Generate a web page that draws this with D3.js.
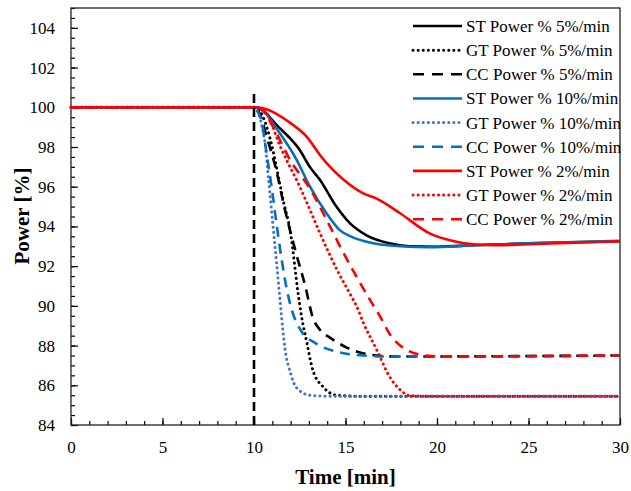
<!DOCTYPE html>
<html lang="en">
  <meta charset="utf-8">
  <style>
    body{ margin: 0; background: #fff; }
    text{ font-family: "Liberation Serif", "Times New Roman", serif; }
  </style>
  <body>
    <svg width="631" height="491"></svg>

    <script src="https://d3js.org/d3.v7.min.js"></script>
    <script>
      // series data: [time (min), power (%)]
      let st5 = [[0,100],[10,100],[10.3,99.95],[11.24,99.1],[12.5,97.85],[13.05,97.0],[13.6,96.35],[14.5,95.0],[15.25,94.15],[16.15,93.55],[17.4,93.15],[18.5,93.0],[20,92.98],[22,93.05],[25,93.15],[30,93.25]]
      let gt5 = [[0,100],[10,100],[10.2,99.95],[10.5,99.5],[10.9,98.35],[11.4,96.2],[11.6,95.3],[12,93.65],[12.4,90.7],[12.6,89.45],[12.9,88.1],[13.2,86.8],[13.8,85.9],[14.5,85.5],[15.6,85.45],[30,85.45]]
      let cc5 = [[0,100],[10,100],[10.3,99.7],[10.7,98.5],[11.25,96.7],[11.6,95.2],[12.3,92.65],[12.8,91.0],[13.2,89.45],[13.6,88.8],[14.15,88.4],[15.07,87.9],[16.3,87.55],[17.8,87.45],[30,87.5]]
      let st10 = [[0,100],[10,100],[10.3,99.95],[11.4,98.7],[12.3,97.4],[13.06,96.0],[13.97,94.65],[14.7,93.8],[15.4,93.45],[16.15,93.23],[18,93.0],[19.6,92.95],[22,93.05],[25,93.15],[30,93.28]]
      let gt10 = [[0,100],[10,100],[10.15,99.9],[10.4,99.2],[10.6,98.2],[10.8,96.3],[11.05,93.9],[11.25,92.0],[11.4,90.5],[11.5,89.5],[11.7,87.8],[12,86.6],[12.3,85.9],[13.05,85.5],[14.15,85.45],[30,85.45]]
      let cc10 = [[0,100],[10,100],[10.2,99.8],[10.4,99.35],[10.7,97.6],[10.96,96.0],[11.25,94.0],[11.5,92.4],[11.8,90.8],[12.1,89.7],[12.5,88.85],[13.4,88.1],[14.5,87.7],[16,87.5],[17.4,87.45],[30,87.5]]
      let st2 = [[0,100],[10,100],[10.5,99.95],[12,99.2],[12.9,98.5],[13.6,97.6],[14.9,96.35],[16,95.65],[16.7,95.4],[18,94.65],[19.6,93.65],[20.5,93.35],[21.5,93.15],[23,93.05],[25,93.1],[30,93.25]]
      let gt2 = [[0,100],[10,100],[10.3,99.95],[10.7,99.7],[11.4,98.1],[12.45,96.1],[14.05,92.75],[14.6,91.7],[15.25,90.6],[15.6,90.0],[16,89.1],[16.7,87.8],[17.4,86.45],[18,85.76],[18.5,85.48],[19.5,85.45],[30,85.45]]
      let cc2 = [[0,100],[10,100],[10.4,99.9],[11.05,99.0],[12,97.3],[13.06,95.9],[14.15,94.0],[14.7,93.0],[16.34,90.3],[16.9,89.45],[17.4,88.6],[18.3,87.8],[19.4,87.5],[20.5,87.45],[30,87.5]]
      let stepLine = [[10,84],[10,100.9]]

      let names = ['ST Power % 5%/min','GT Power % 5%/min','CC Power % 5%/min',
                   'ST Power % 10%/min','GT Power % 10%/min','CC Power % 10%/min',
                   'ST Power % 2%/min','GT Power % 2%/min','CC Power % 2%/min']
      let series = [st5, gt5, cc5, st10, gt10, cc10, st2, gt2, cc2]
      let colors = ['#000','#000','#000','#0070C0','#4472C4','#0070C0','#ff0000','#ff0000','#ff0000']
      let styles = ['solid','dot','dash','solid','dot','dash','solid','dot','dash']

      let xTicks = [0,5,10,15,20,25,30]
      let yTicks = [84,86,88,90,92,94,96,98,100,102,104]

      let svg = d3.select('svg')
      let pLeft = 71, pRight = 620, pTop = 8, pBottom = 425

      let x = d3.scaleLinear().domain([0,30]).range([pLeft,pRight])
      let y = d3.scaleLinear().domain([84,105]).range([pBottom,pTop])

      // minor ticks
      svg.append('g')
         .attr('transform',`translate(0,${pBottom})`)
         .call(d3.axisBottom(x).tickValues(d3.range(0,31,1)).tickSize(-4).tickFormat(''))
         .call(g => g.select('.domain').remove())
      svg.append('g')
         .attr('transform',`translate(${pLeft},0)`)
         .call(d3.axisLeft(y).tickValues(d3.range(84,105.01,0.5)).tickSize(-4).tickFormat(''))
         .call(g => g.select('.domain').remove())

      // major ticks + labels
      let xAxis = svg.append('g')
         .attr('transform',`translate(0,${pBottom})`)
         .call(d3.axisBottom(x).tickValues(xTicks).tickSize(-7).tickPadding(16))
      let yAxis = svg.append('g')
         .attr('transform',`translate(${pLeft},0)`)
         .call(d3.axisLeft(y).tickValues(yTicks).tickSize(-7).tickPadding(16))
      ;[xAxis, yAxis].forEach(a => {
        a.select('.domain').remove()
        a.selectAll('text').style('font-family','"Liberation Serif", serif').style('font-size','17px').attr('fill','#000')
      })
      svg.selectAll('.tick line').attr('stroke','#000').attr('stroke-width',1.2)

      // frame
      svg.append('rect')
         .attr('x',pLeft).attr('y',pTop)
         .attr('width',pRight-pLeft).attr('height',pBottom-pTop)
         .attr('fill','none').attr('stroke','#222').attr('stroke-width',1.3)

      let line = d3.line().x(d => x(d[0])).y(d => y(d[1])).curve(d3.curveMonotoneX)

      function dashOf(s){
        if(s === 'dot') return '0.1,5'
        if(s === 'dash') return '10,7'
        return null
      }

      svg.append('g')
         .selectAll('path')
         .data(series).enter()
         .append('path')
         .attr('d', line)
         .attr('fill','none')
         .attr('stroke',(d,i) => colors[i])
         .attr('stroke-width',(d,i) => styles[i] === 'dot' ? 3 : 2.6)
         .attr('stroke-linecap',(d,i) => styles[i] === 'dot' ? 'round' : 'butt')
         .attr('stroke-dasharray',(d,i) => dashOf(styles[i]))

      // step marker
      svg.append('path')
         .attr('d', d3.line().x(d => x(d[0])).y(d => y(d[1]))(stepLine))
         .attr('fill','none').attr('stroke','#000')
         .attr('stroke-width',2.6).attr('stroke-dasharray','9,5')

      // legend
      let legend = svg.append('g')
                      .selectAll('g')
                      .data(names).enter()
                      .append('g')
                      .attr('transform',(d,i) => `translate(413,${26 + i*24.15})`)
      legend.append('line')
            .attr('x1',0).attr('x2',49).attr('y1',0).attr('y2',0)
            .attr('stroke',(d,i) => colors[i])
            .attr('stroke-width',(d,i) => styles[i] === 'dot' ? 3 : 2.6)
            .attr('stroke-linecap',(d,i) => styles[i] === 'dot' ? 'round' : 'butt')
            .attr('stroke-dasharray',(d,i) => styles[i] === 'dash' ? '11,8' : dashOf(styles[i]))
      legend.append('text')
            .attr('x',53).attr('y',0).attr('dy','0.35em')
            .style('font-size','17px')
            .text(d => d)

      // axis titles
      svg.append('text')
         .attr('x',(pLeft+pRight)/2).attr('y',484)
         .attr('text-anchor','middle')
         .style('font-size','21px').style('font-weight','bold')
         .text('Time [min]')
      svg.append('text')
         .attr('transform','translate(29,216) rotate(-90)')
         .attr('text-anchor','middle')
         .style('font-size','21px').style('font-weight','bold')
         .text('Power [%]')
    </script>
</body>
</html>
